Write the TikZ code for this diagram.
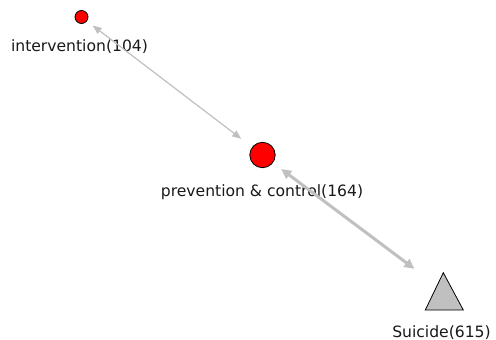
\documentclass[tikz,border=0pt]{standalone}
\usepackage{fontspec}
\setmainfont{DejaVu Sans}
\usetikzlibrary{arrows.meta}
\definecolor{edgegray}{RGB}{192,192,192}
\definecolor{trigray}{RGB}{192,192,192}
\begin{document}
\begin{tikzpicture}[x=1pt,y=-1pt,
  rednode/.style={circle,draw=black,line width=0.8pt,fill=red,inner sep=0pt,outer sep=0pt},
  lbl/.style={anchor=base,inner sep=0pt,font=\fontsize{15.6}{18}\selectfont,text=black!90},
  thinedge/.style={draw=edgegray,line width=1.2pt,{Triangle[length=9pt,width=7pt]}-{Triangle[length=9pt,width=7pt]}},
  thickedge/.style={draw=edgegray,line width=3pt,{Triangle[length=10pt,width=9.5pt]}-{Triangle[length=10pt,width=9.5pt]}}
]
\useasboundingbox[fill=white] (0,0) rectangle (496,340);
\node[rednode,minimum size=13pt] (intv) at (81.5,17) {};
\node[rednode,minimum size=25.4pt] (prev) at (262.5,155) {};
\coordinate (suic) at (444,291);
\draw[line width=0.8pt,fill=trigray,line join=miter] (425.3,310) -- (443.3,272.7) -- (463.3,310) -- cycle;
\node[lbl] (lintv) at (79.5,52) {intervention(104)};
\node[lbl] (lprev) at (262,196) {prevention \& control(164)};
\node[lbl] (lsuic) at (441.5,337.5) {Suicide(615)};
\draw[thinedge,shorten <=7.5pt,shorten >=14pt] (intv) -- (prev);
\draw[thickedge,shorten <=10.7pt,shorten >=37pt] (prev) -- (suic);
\end{tikzpicture}
\end{document}
